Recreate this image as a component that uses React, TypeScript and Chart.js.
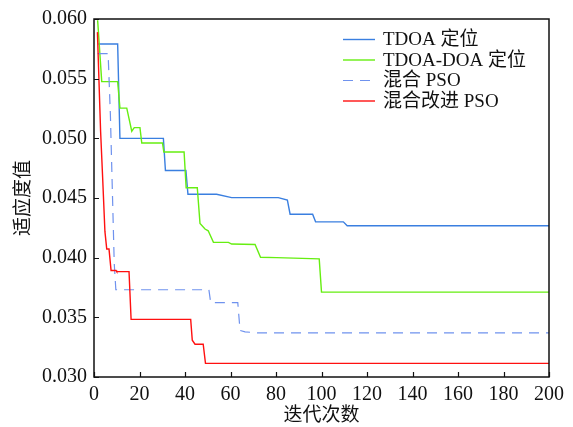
import { useEffect, useRef } from 'react';
import { Chart, registerables } from 'chart.js';

Chart.register(...registerables);

const FONT = '"Liberation Serif", "Times New Roman", "Noto Sans CJK SC", serif';

const seriesLabels = ['TDOA 定位', 'TDOA-DOA 定位', '混合 PSO', '混合改进 PSO'];

const tdoaX = [1.9, 10.4, 11.4, 30.5, 31.4, 40.4, 41.3, 53.9, 60.5, 81.0, 85.0, 86.2, 96.1, 97.4, 109.6, 111.3, 200];
const tdoaY = [0.0579, 0.0579, 0.05, 0.05, 0.0473, 0.0473, 0.04531, 0.04531, 0.04503, 0.04503, 0.04483, 0.04364, 0.04364, 0.043, 0.043, 0.04267, 0.04267];

const tdoaDoaX = [1.6, 3.4, 10.4, 11.4, 14.4, 16.6, 17.7, 20.2, 21.0, 30.1, 30.7, 39.6, 40.5, 45.4, 46.6, 48.8, 50.2, 52.5, 59.1, 60.5, 70.8, 73.2, 80.2, 99.0, 100.0, 200];
const tdoaDoaY = [0.0599, 0.05475, 0.05475, 0.05253, 0.05253, 0.0506, 0.0509, 0.0509, 0.04961, 0.04961, 0.04886, 0.04886, 0.04586, 0.04586, 0.04286, 0.0424, 0.04225, 0.04128, 0.04128, 0.04114, 0.0411, 0.04003, 0.04, 0.0399, 0.03711, 0.03711];

const psoX = [1.6, 6.2, 7.2, 8.9, 9.6, 50.5, 51.3, 63.2, 64.2, 66.4, 72.0, 200];
const psoY = [0.0571, 0.0571, 0.052, 0.0395, 0.03731, 0.03731, 0.03623, 0.03623, 0.0339, 0.03378, 0.0337, 0.0337];

const improvedX = [1.5, 2.9, 3.8, 4.8, 5.6, 6.6, 7.5, 9.7, 10.0, 15.4, 16.3, 42.5, 43.2, 44.4, 48.0, 49.0, 200];
const improvedY = [0.0589, 0.0506, 0.0467, 0.0422, 0.04072, 0.04072, 0.03892, 0.03892, 0.03883, 0.03883, 0.03483, 0.03483, 0.03308, 0.03275, 0.03275, 0.03114, 0.03114];

const xTicks = [0, 20, 40, 60, 80, 100, 120, 140, 160, 180, 200];
const yTicks = [0.03, 0.035, 0.04, 0.045, 0.05, 0.055, 0.06];

const xTitle = '迭代次数';
const yTitle = '适应度值';

const colors = ['#3a7fe0', '#66ee11', '#6f92ee', '#ff1010'];

const toPoints = (xs: number[], ys: number[]) => xs.map((x, i) => ({ x, y: ys[i] }));

const framePlugin = {
  id: 'frameTicksLegend',
  afterDraw(chart: any) {
    const { ctx, chartArea: a, scales } = chart;
    ctx.save();
    ctx.strokeStyle = '#111';
    ctx.lineWidth = 1.5;
    ctx.setLineDash([]);
    ctx.strokeRect(a.left, a.top, a.right - a.left, a.bottom - a.top);
    ctx.lineWidth = 1.2;
    ctx.beginPath();
    xTicks.forEach((v) => {
      const px = Math.round(scales.x.getPixelForValue(v)) + 0.5;
      ctx.moveTo(px, a.bottom);
      ctx.lineTo(px, a.bottom - 5);
    });
    yTicks.forEach((v) => {
      const py = Math.round(scales.y.getPixelForValue(v)) + 0.5;
      ctx.moveTo(a.left, py);
      ctx.lineTo(a.left + 5, py);
    });
    ctx.stroke();

    // legend
    ctx.font = `19px ${FONT}`;
    ctx.textBaseline = 'middle';
    ctx.textAlign = 'left';
    chart.data.datasets.forEach((ds: any, i: number) => {
      const y = 39.5 + i * 20.5;
      ctx.strokeStyle = ds.borderColor;
      ctx.lineWidth = ds.borderWidth;
      ctx.setLineDash(ds.borderDash || []);
      ctx.beginPath();
      ctx.moveTo(343, y);
      ctx.lineTo(375, y);
      ctx.stroke();
      ctx.setLineDash([]);
      ctx.fillStyle = '#111';
      ctx.fillText(ds.label, 383, y + 1);
    });
    ctx.restore();
  },
};

export default function App() {
  const ref = useRef<HTMLCanvasElement | null>(null);

  useEffect(() => {
    if (!ref.current) return;
    const datasets = [
      { label: seriesLabels[0], data: toPoints(tdoaX, tdoaY), borderColor: colors[0], borderWidth: 1.4, order: 3 },
      { label: seriesLabels[1], data: toPoints(tdoaDoaX, tdoaDoaY), borderColor: colors[1], borderWidth: 1.4, order: 2 },
      { label: seriesLabels[2], data: toPoints(psoX, psoY), borderColor: colors[2], borderWidth: 1.2, borderDash: [10, 7], order: 1 },
      { label: seriesLabels[3], data: toPoints(improvedX, improvedY), borderColor: colors[3], borderWidth: 1.4, order: 0 },
    ].map((d) => ({ ...d, pointRadius: 0, fill: false, tension: 0, backgroundColor: d.borderColor }));

    const chart = new Chart(ref.current, {
      type: 'line',
      data: { datasets: datasets as any },
      options: {
        animation: false,
        responsive: false,
        maintainAspectRatio: false,
        layout: { padding: { left: 0, top: 17, right: 24, bottom: 0 } },
        plugins: { legend: { display: false }, tooltip: { enabled: false } },
        scales: {
          x: {
            type: 'linear',
            min: 0,
            max: 200,
            afterBuildTicks: (s: any) => { s.ticks = xTicks.map((v) => ({ value: v })); },
            afterFit: (s: any) => { s.height = 50; },
            grid: { display: false, drawTicks: false },
            border: { display: false },
            ticks: { color: '#111', font: { family: FONT, size: 20 }, padding: 6, maxRotation: 0 },
            title: { display: true, text: xTitle, color: '#111', font: { family: FONT, size: 19, lineHeight: 1 }, padding: { top: 0, bottom: 1 } },
          },
          y: {
            type: 'linear',
            min: 0.03,
            max: 0.06,
            afterBuildTicks: (s: any) => { s.ticks = yTicks.map((v) => ({ value: v })); },
            afterFit: (s: any) => { s.width = 94; },
            grid: { display: false, drawTicks: false },
            border: { display: false },
            ticks: { color: '#111', font: { family: FONT, size: 20 }, padding: 7, callback: (v: any) => Number(v).toFixed(3) },
            title: { display: true, text: yTitle, color: '#111', font: { family: FONT, size: 19 }, padding: { top: 13, bottom: 0 } },
          },
        },
      },
      plugins: [framePlugin],
    });
    return () => chart.destroy();
  }, []);

  return (
    <div style={{ position: 'absolute', left: 0, top: 0, width: 573, height: 427, background: '#fff' }}>
      <canvas ref={ref} width={573} height={427} style={{ width: 573, height: 427 }} />
    </div>
  );
}
